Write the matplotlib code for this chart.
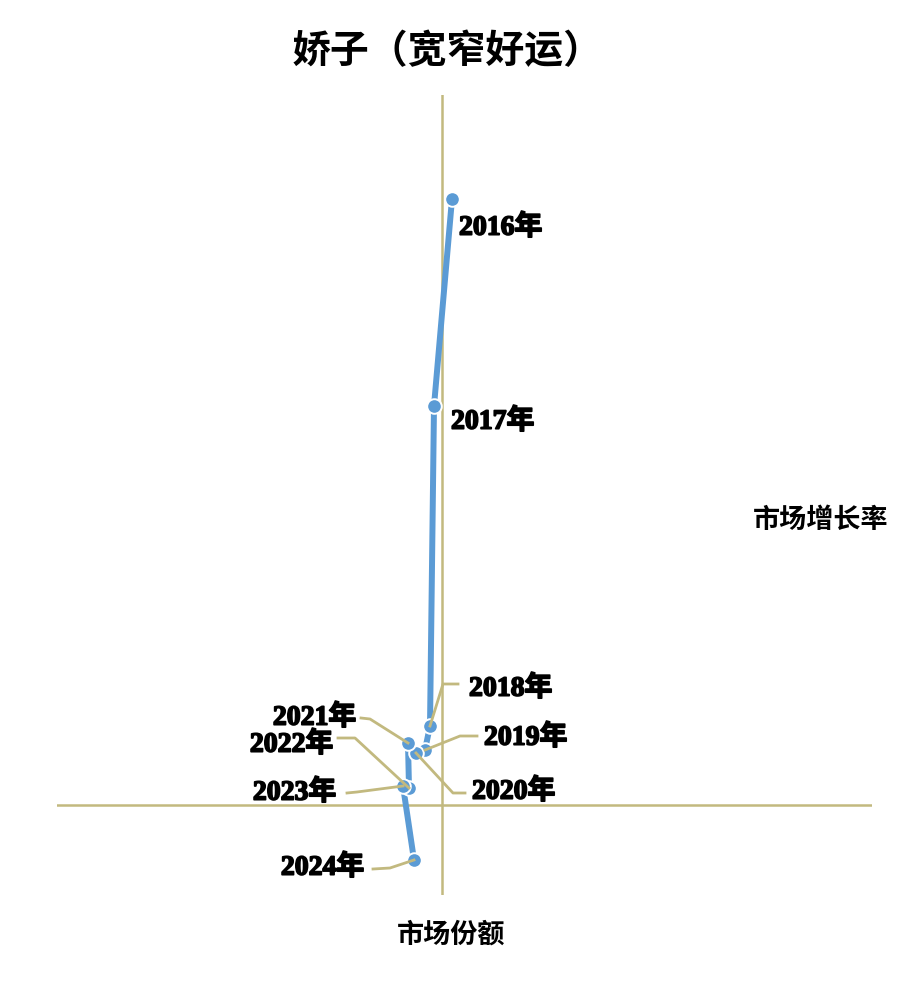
import matplotlib
matplotlib.use("Agg")
import matplotlib.pyplot as plt
from matplotlib.lines import Line2D
import matplotlib.patheffects as pe

plt.rcParams['font.family'] = ['Noto Sans CJK SC', 'DejaVu Sans']

years = ["2016年", "2017年", "2018年", "2019年", "2020年", "2021年", "2022年", "2023年", "2024年"]
share = [0.10, -0.08, -0.12, -0.17, -0.26, -0.34, -0.33, -0.39, -0.28]
growth = [60.6, 39.9, 7.9, 5.5, 5.2, 6.2, 1.7, 1.9, -5.5]

title = "娇子（宽窄好运）"
xname = "市场增长率"
yname = "市场份额"

W, H = 917, 981
fig = plt.figure(figsize=(W / 100, H / 100), dpi=100)
ax = fig.add_axes([57 / W, 1 - 895 / H, (872 - 57) / W, (895 - 95) / H])
ax.set_xlim(-3.85, 4.30)
ax.set_ylim(-9.0, 71.0)
ax.axis('off')

axis_col = '#c2b97f'
ax.axhline(0, color=axis_col, lw=1.8, zorder=1)
ax.axvline(0, color=axis_col, lw=1.8, zorder=1)

ax.plot(share, growth, color='#5b9bd5', lw=4.3, zorder=3, solid_capstyle='round')
ax.plot(share, growth, ls='none', marker='o', ms=10.5, mfc='#5b9bd5', mec='white',
        mew=1.4, zorder=4)

# label layouts: (text offset px, alignment, leader vertices px) ; image px, y down
layout = [
    ((7, 29), 'left', None),
    ((17, 16), 'left', None),
    ((39, -37), 'left', [(0, 0), (13, -42), (28, -42)]),
    ((59, -12), 'left', [(0, 0), (35, -14), (52, -14)]),
    ((56, 39), 'left', [(0, 0), (37, 40), (49, 40)]),
    ((-52, -25), 'right', [(0, 0), (-38, -24), (-47, -25)]),
    ((-76, -43), 'right', [(0, 0), (-54, -50), (-71, -50)]),
    ((-67, 7), 'right', [(0, 0), (-46, 6), (-56, 7)]),
    ((-50, 8), 'right', [(0, 0), (-24, 8), (-41, 9)]),
]

fig.canvas.draw()
for (lab, x, y, (off, ha, leader)) in zip(years, share, growth, layout):
    px, py = ax.transData.transform((x, y))
    if leader is not None:
        xs = [px + dx for dx, dy in leader]
        ys = [py - dy for dx, dy in leader]
        fig.add_artist(Line2D(xs, ys, transform=None, color=axis_col, lw=2.0, zorder=2))
    t = fig.text((px + off[0]) / W, (py - off[1]) / H, lab, ha=ha, va='center',
                 fontsize=20, fontweight='bold',
                 family=['Liberation Serif', 'Noto Sans CJK SC'], color='black', zorder=5)
    t.set_path_effects([pe.withStroke(linewidth=1.2, foreground='black')])

fig.text(447 / W, 1 - 52 / H, title, ha='center', va='center', fontsize=28,
         fontweight='bold', color='black')
fig.text(821 / W, 1 - 520 / H, xname, ha='center', va='center', fontsize=19.5,
         fontweight='bold', color='black')
fig.text(451 / W, 1 - 935 / H, yname, ha='center', va='center', fontsize=19.5,
         fontweight='bold', color='black')

fig.savefig("out.png", dpi=100, facecolor='white')
